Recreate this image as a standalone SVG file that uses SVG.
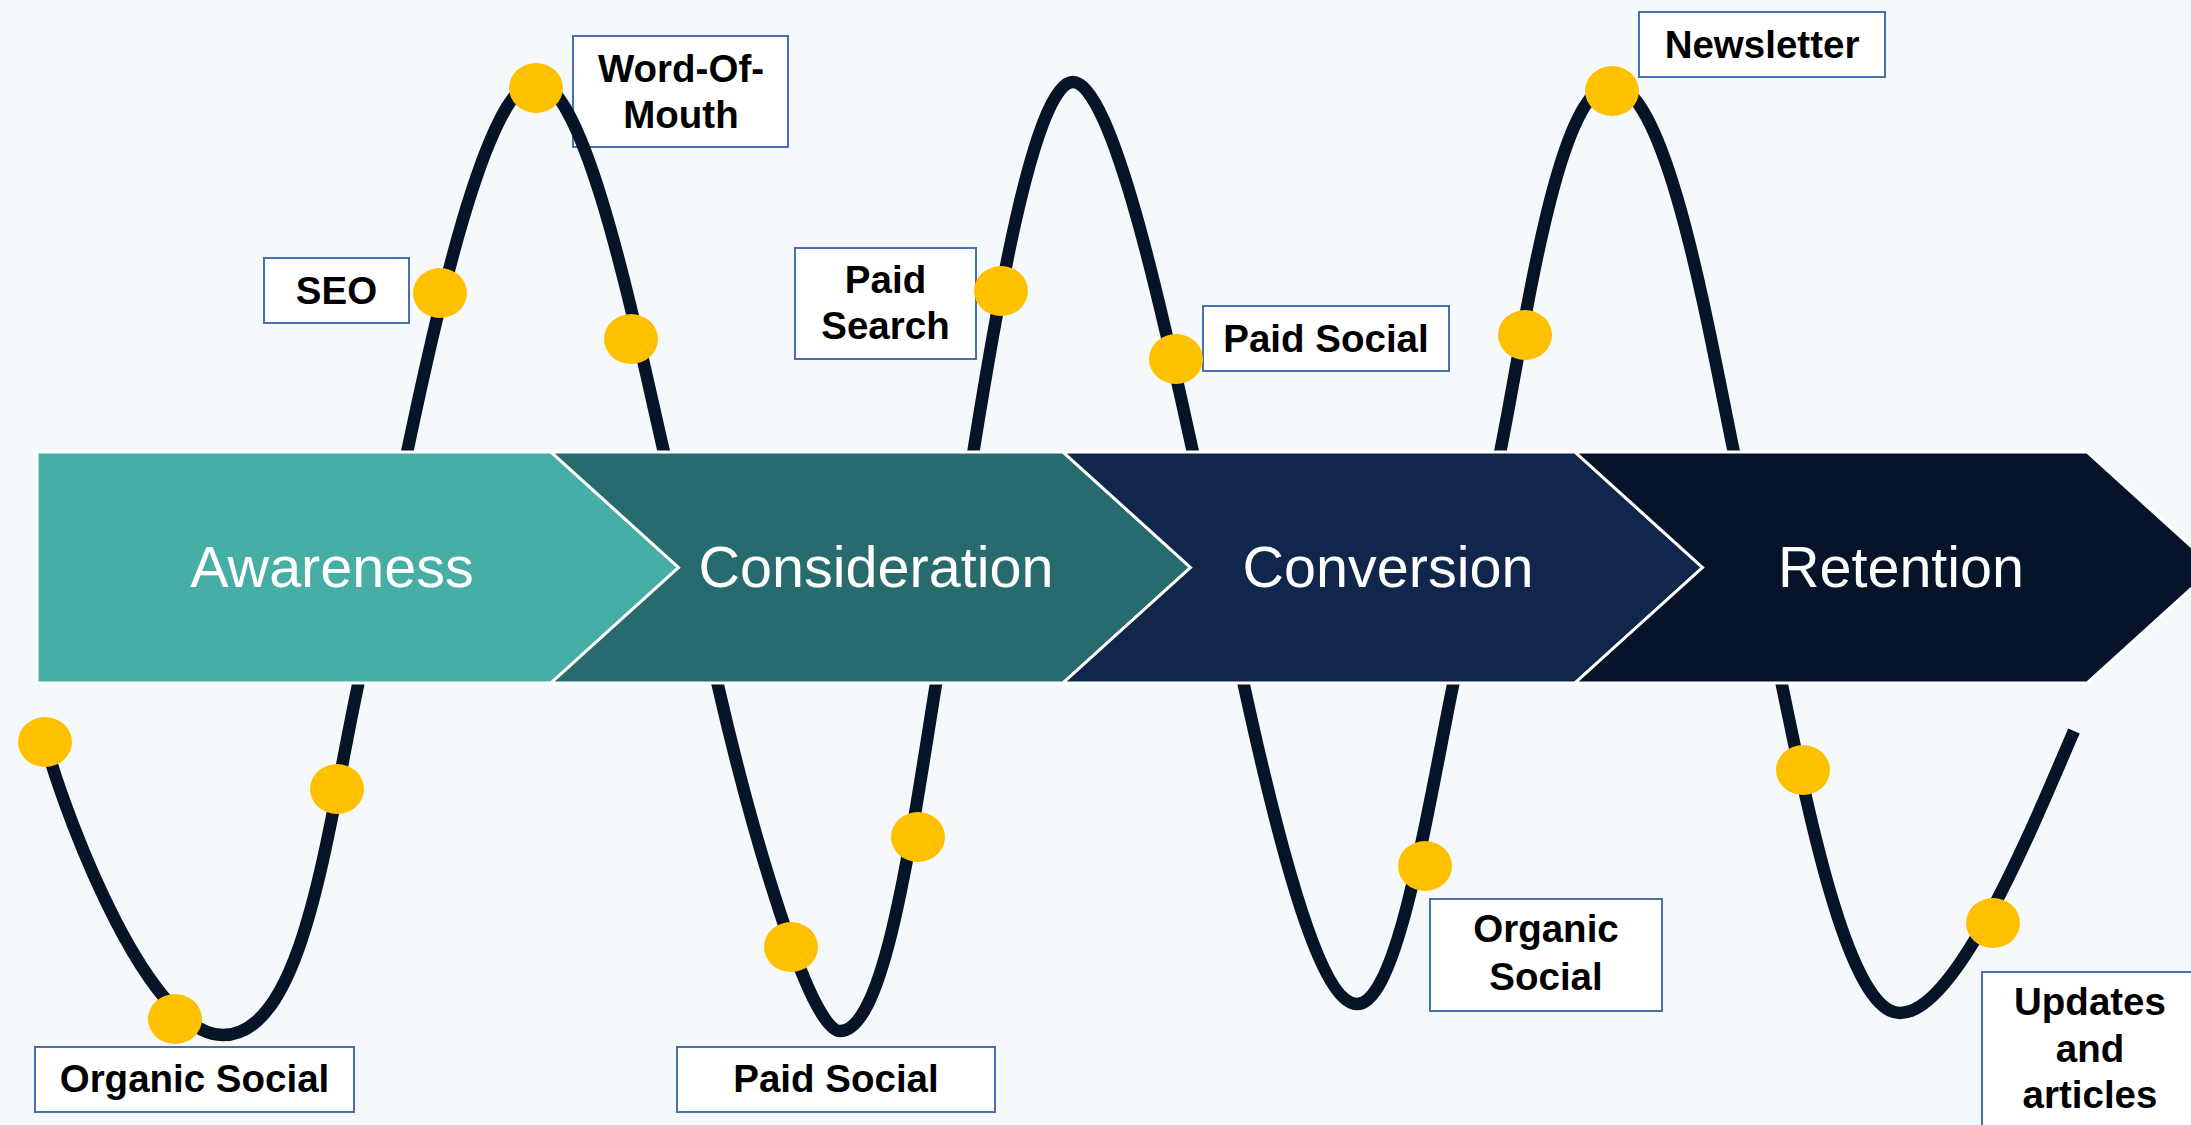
<svg xmlns="http://www.w3.org/2000/svg" width="2191" height="1125" viewBox="0 0 2191 1125">
  <style>
    .stage-text { font-family: "Liberation Sans", Arial, sans-serif; font-size: 57.5px; fill: #FFFFFF; text-anchor: middle; }
    .label-box { fill: #FFFFFF; stroke: #4A6EB0; stroke-width: 2; }
    .label-text { font-family: "Liberation Sans", Arial, sans-serif; font-size: 38.5px; font-weight: bold; fill: #000000; text-anchor: middle; }
    .chevron { stroke: #FFFFFF; stroke-width: 3; stroke-linejoin: miter; }
    .wave { fill: none; stroke: #061428; stroke-width: 12.5; stroke-linecap: butt; stroke-linejoin: round; }
    .dot { fill: #FFC000; }
  </style>

  <!-- page background -->
  <rect x="0" y="0" width="2191" height="1125" fill="#F6F9FC"/>

  <!-- channel labels -->
  <g id="label-seo">
    <rect class="label-box" x="264" y="258" width="145" height="65"/>
    <text class="label-text" x="336.5" y="304">SEO</text>
  </g>
  <g id="label-word-of-mouth">
    <rect class="label-box" x="573" y="36" width="215" height="111"/>
    <text class="label-text" x="681" y="82">Word-Of-</text>
    <text class="label-text" x="681" y="128">Mouth</text>
  </g>
  <g id="label-paid-search">
    <rect class="label-box" x="795" y="248" width="181" height="111"/>
    <text class="label-text" x="885.5" y="293">Paid</text>
    <text class="label-text" x="885.5" y="339">Search</text>
  </g>
  <g id="label-paid-social-top">
    <rect class="label-box" x="1203" y="306" width="246" height="65"/>
    <text class="label-text" x="1326" y="352">Paid Social</text>
  </g>
  <g id="label-newsletter">
    <rect class="label-box" x="1639" y="12" width="246" height="65"/>
    <text class="label-text" x="1762" y="58">Newsletter</text>
  </g>
  <g id="label-organic-social-left">
    <rect class="label-box" x="35" y="1047" width="319" height="65"/>
    <text class="label-text" x="194.5" y="1092">Organic Social</text>
  </g>
  <g id="label-paid-social-bottom">
    <rect class="label-box" x="677" y="1047" width="318" height="65"/>
    <text class="label-text" x="836" y="1092">Paid Social</text>
  </g>
  <g id="label-organic-social-right">
    <rect class="label-box" x="1430" y="899" width="232" height="112"/>
    <text class="label-text" x="1546" y="942">Organic</text>
    <text class="label-text" x="1546" y="990">Social</text>
  </g>
  <g id="label-updates-articles">
    <rect class="label-box" x="1982" y="972" width="218" height="170"/>
    <text class="label-text" x="2090" y="1015">Updates</text>
    <text class="label-text" x="2090" y="1062">and</text>
    <text class="label-text" x="2090" y="1108">articles</text>
  </g>

  <!-- journey wave -->
  <g id="connectors">
    <path class="wave" d="M45,742 C70,830 150,1035 223,1035
      C303,1035 326.1,836.7 357,690 L408,448
      C432.7,330.6 486,82 536,82
      C586,82 636,331.1 663,448 L719,690
      C752.8,836.1 810,1031 840,1031
      C885,1031 911.1,838 935,690 L974,448
      C993.1,329.6 1033,82 1073,82
      C1113,82 1166.3,330.8 1192,448 L1245,690
      C1272.8,817 1317,1004 1357,1004
      C1397,1004 1426.3,817.4 1452,690 L1501,448
      C1524.8,330.4 1557,85 1612,85
      C1667,85 1708.7,330.5 1733,448 L1783,690
      C1811.3,827.1 1850,1013 1900,1013
      C1960,1013 2041.7,804.2 2074,731"/>
  </g>

  <!-- funnel stages -->
  <g id="stage-awareness">
    <polygon class="chevron" fill="#46AEA4" points="37,452 551,452 678.5,567.5 551,683 37,683"/>
    <text class="stage-text" x="332" y="587">Awareness</text>
  </g>
  <g id="stage-consideration">
    <polygon class="chevron" fill="#276B6E" points="551,452 1063,452 1190.5,567.5 1063,683 551,683 678.5,567.5"/>
    <text class="stage-text" x="876" y="587">Consideration</text>
  </g>
  <g id="stage-conversion">
    <polygon class="chevron" fill="#10264A" points="1063,452 1575,452 1702.5,567.5 1575,683 1063,683 1190.5,567.5"/>
    <text class="stage-text" x="1388" y="587">Conversion</text>
  </g>
  <g id="stage-retention">
    <polygon class="chevron" fill="#061328" points="1575,452 2087,452 2214.5,567.5 2087,683 1575,683 1702.5,567.5"/>
    <text class="stage-text" x="1901" y="587">Retention</text>
  </g>

  <!-- touchpoint markers -->
  <g id="touchpoints">
    <ellipse class="dot" cx="45" cy="742" rx="27" ry="25"/>
    <ellipse class="dot" cx="175" cy="1019" rx="27" ry="25"/>
    <ellipse class="dot" cx="337" cy="789" rx="27" ry="25"/>
    <ellipse class="dot" cx="440" cy="293" rx="27" ry="25"/>
    <ellipse class="dot" cx="536" cy="88" rx="27" ry="25"/>
    <ellipse class="dot" cx="631" cy="339" rx="27" ry="25"/>
    <ellipse class="dot" cx="791" cy="947" rx="27" ry="25"/>
    <ellipse class="dot" cx="918" cy="837" rx="27" ry="25"/>
    <ellipse class="dot" cx="1001" cy="291" rx="27" ry="25"/>
    <ellipse class="dot" cx="1176" cy="359" rx="27" ry="25"/>
    <ellipse class="dot" cx="1425" cy="866" rx="27" ry="25"/>
    <ellipse class="dot" cx="1525" cy="335" rx="27" ry="25"/>
    <ellipse class="dot" cx="1612" cy="91" rx="27" ry="25"/>
    <ellipse class="dot" cx="1803" cy="770" rx="27" ry="25"/>
    <ellipse class="dot" cx="1993" cy="923" rx="27" ry="25"/>
  </g>
</svg>
